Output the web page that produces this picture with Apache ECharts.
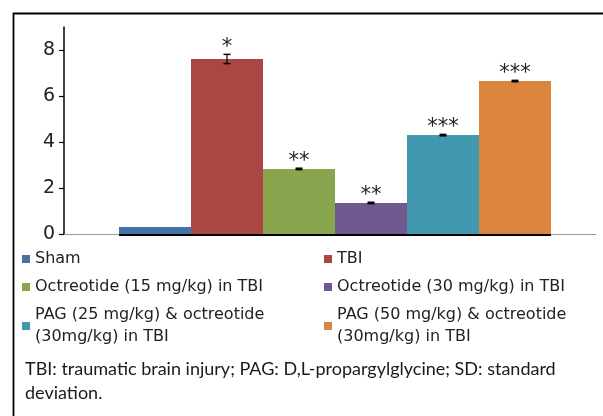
<!DOCTYPE html>
<html><head><meta charset="utf-8">
<script src="https://cdn.jsdelivr.net/npm/echarts@6/dist/echarts.min.js"></script>
<style>html,body{margin:0;padding:0;background:#fff}#c{width:603px;height:416px}</style>
</head><body><div id="c"></div>
<script>
var groups = ['Sham', 'TBI', 'Octreotide (15 mg/kg) in TBI', 'Octreotide (30 mg/kg) in TBI',
  'PAG (25 mg/kg) & octreotide\n(30mg/kg) in TBI', 'PAG (50 mg/kg) & octreotide\n(30mg/kg) in TBI'];
var means = [0.30, 7.61, 2.83, 1.35, 4.30, 6.65];
var sds = [0, 0.20, 0.03, 0.03, 0.03, 0.03];
var marks = ['', '*', '**', '**', '***', '***'];
var yTicks = [0, 2, 4, 6, 8];
var yMax = 9;
var footnote = ['TBI: traumatic brain injury; PAG: D,L-propargylglycine; SD: standard', 'deviation.'];
var colors = ['#4572A7', '#AA4643', '#89A54E', '#71588F', '#4198AF', '#DB843D'];

var chart = echarts.init(document.getElementById('c'), null, {renderer: 'canvas'});
var series = groups.map(function (g, k) {
  return {
    type: 'bar', name: g, data: [[k, means[k]]], barWidth: 72, barGap: '-100%',
    itemStyle: {color: colors[k]}, z: 2
  };
});
series.push({
  type: 'custom', name: 'SD', z: 5, silent: true,
  data: groups.map(function (g, k) { return [k, means[k], sds[k]]; }),
  renderItem: function (params, api) {
    var i = api.value(0), v = api.value(1), e = api.value(2);
    var base = api.coord([i, 0]);
    var w = api.size([1, 0])[0];
    var hi = api.coord([i, v + e]);
    var lo = api.coord([i, v - e]);
    var ch = [{
      type: 'line', shape: {x1: base[0] - w / 2, y1: base[1] + 1, x2: base[0] + w / 2, y2: base[1] + 1},
      style: {stroke: '#000', lineWidth: 2}
    }];
    if (e > 0) {
      ch.push({type: 'line', shape: {x1: hi[0], y1: hi[1], x2: lo[0], y2: lo[1]}, style: {stroke: '#000', lineWidth: 1.2}});
      ch.push({type: 'line', shape: {x1: hi[0] - 3.5, y1: hi[1], x2: hi[0] + 3.5, y2: hi[1]}, style: {stroke: '#000', lineWidth: 1.5}});
      ch.push({type: 'line', shape: {x1: lo[0] - 3.5, y1: lo[1], x2: lo[0] + 3.5, y2: lo[1]}, style: {stroke: '#000', lineWidth: 1.5}});
    }
    ch.push({
      type: 'text', x: hi[0], y: hi[1] - 7,
      style: {text: marks[params.dataIndex], align: 'center', verticalAlign: 'middle',
        font: '21px "DejaVu Sans"', fill: '#222'}
    });
    return {type: 'group', children: ch};
  }
});

var legendCommon = {
  orient: 'vertical', top: 248, itemGap: 6, itemWidth: 8, itemHeight: 8, icon: 'rect',
  padding: 0, selectedMode: false,
  textStyle: {fontFamily: 'DejaVu Sans', fontSize: 16, color: '#222', lineHeight: 22}
};

chart.setOption({
  animation: false,
  color: colors,
  grid: {left: 64, right: 7, top: 27, bottom: 182, containLabel: false},
  legend: [
    Object.assign({left: 22, data: [groups[0], groups[2], groups[4]]}, legendCommon),
    Object.assign({left: 324, data: [groups[1], groups[3], groups[5]]}, legendCommon)
  ],
  xAxis: {
    type: 'value', min: -1.2639, max: 6.125,
    axisLine: {show: true, onZero: false, lineStyle: {color: '#999', width: 1}},
    axisTick: {show: false}, axisLabel: {show: false}, splitLine: {show: false}
  },
  yAxis: {
    type: 'value', min: yTicks[0], max: yMax, interval: yTicks[1] - yTicks[0],
    axisLine: {show: true, onZero: false, lineStyle: {color: '#000', width: 1.5}},
    axisTick: {show: true, length: 5, lineStyle: {color: '#000', width: 1.2}},
    axisLabel: {showMaxLabel: false, fontFamily: 'DejaVu Sans', fontSize: 19, color: '#222', margin: 9},
    splitLine: {show: false}
  },
  graphic: [
    {type: 'rect', left: 11, top: 11, shape: {x: 0, y: 0, width: 700, height: 500},
      style: {fill: 'none', stroke: '#000', lineWidth: 1.8}, silent: true},
    {type: 'text', left: 25, top: 357,
      style: {text: footnote.join('\n'), font: '18px Lato', lineHeight: 24, fill: '#1a1a1a'}}
  ],
  series: series
});
</script></body></html>
